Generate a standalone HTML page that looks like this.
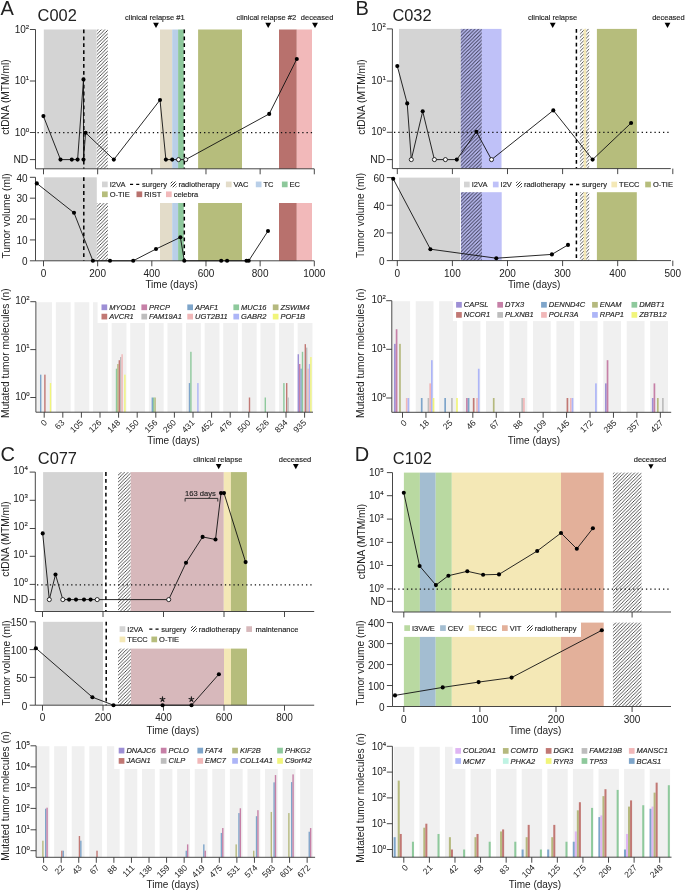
<!DOCTYPE html>
<html><head><meta charset="utf-8"><style>
html,body{margin:0;padding:0;background:#fff;}
svg{display:block;will-change:transform;}
text{font-family:"Liberation Sans", sans-serif;}
</style></head><body>
<svg width="685" height="890" viewBox="0 0 685 890">
<rect width="685" height="890" fill="#fff"/>
<defs>
<pattern id="h1" patternUnits="userSpaceOnUse" width="3.45" height="3.45">
<rect width="3.45" height="3.45" fill="#fff"/>
<path d="M-1,1 L1,-1 M0,3.45 L3.45,0 M2.45,4.45 L4.45,2.45" stroke="#2a2a2a" stroke-width="0.8"/>
</pattern>
<pattern id="hb" patternUnits="userSpaceOnUse" width="3.6" height="3.6">
<rect width="3.6" height="3.6" fill="#c0c1f8"/>
<path d="M-1,1 L1,-1 M0,3.6 L3.6,0 M2.6,4.6 L4.6,2.6" stroke="#3a3a55" stroke-width="1.05"/>
</pattern>
<pattern id="hl" patternUnits="userSpaceOnUse" width="3" height="3">
<rect width="3" height="3" fill="#fff"/>
<path d="M-1,1 L1,-1 M0,3 L3,0 M2,4 L4,2" stroke="#333" stroke-width="1"/>
</pattern>
</defs>
<text x="0.6" y="14.8" font-size="20" text-anchor="start" fill="#222" >A</text>
<text x="37.6" y="21" font-size="16.4" text-anchor="start" fill="#222" >C002</text>
<rect x="43.8" y="29.5" width="52.8" height="139.3" fill="#d4d4d4" />
<rect x="96.8" y="29.5" width="11" height="139.3" fill="url(#h1)" />
<rect x="160" y="29.5" width="12.2" height="139.3" fill="#e3dcc9" />
<rect x="172.2" y="29.5" width="5.9" height="139.3" fill="#b9cfe8" />
<rect x="178.1" y="29.5" width="5.7" height="139.3" fill="#8dc89b" />
<rect x="198.1" y="29.5" width="43.9" height="139.3" fill="#b6bd7c" />
<rect x="279" y="29.5" width="17.8" height="139.3" fill="#b8716d" />
<rect x="296.8" y="29.5" width="15.2" height="139.3" fill="#f2b9ba" />
<line x1="83.8" y1="29.5" x2="83.8" y2="168.8" stroke="#000" stroke-width="1.5" stroke-dasharray="3.8 3.1"/>
<line x1="184.3" y1="29.5" x2="184.3" y2="168.8" stroke="#000" stroke-width="1.5" stroke-dasharray="3.8 3.1"/>
<line x1="37.5" y1="132.7" x2="312.5" y2="132.7" stroke="#111" stroke-width="1.2" stroke-dasharray="1.3 2.97"/>
<line x1="35.5" y1="29.5" x2="35.5" y2="168.8" stroke="#333" stroke-width="0.9" />
<line x1="35.5" y1="168.8" x2="314.2" y2="168.8" stroke="#333" stroke-width="0.9" />
<line x1="43.5" y1="168.8" x2="43.5" y2="174.3" stroke="#333" stroke-width="0.9" />
<line x1="97.66" y1="168.8" x2="97.66" y2="174.3" stroke="#333" stroke-width="0.9" />
<line x1="151.82" y1="168.8" x2="151.82" y2="174.3" stroke="#333" stroke-width="0.9" />
<line x1="205.98" y1="168.8" x2="205.98" y2="174.3" stroke="#333" stroke-width="0.9" />
<line x1="260.14" y1="168.8" x2="260.14" y2="174.3" stroke="#333" stroke-width="0.9" />
<line x1="314.3" y1="168.8" x2="314.3" y2="174.3" stroke="#333" stroke-width="0.9" />
<line x1="29.9" y1="29.5" x2="35.5" y2="29.5" stroke="#333" stroke-width="0.9" />
<text x="25.8" y="32.7" font-size="10" text-anchor="end" fill="#222" >10</text>
<text x="25.8" y="28.8" font-size="6" text-anchor="start" fill="#222"  stroke="#222" stroke-width="0.14">2</text>
<line x1="29.9" y1="81" x2="35.5" y2="81" stroke="#333" stroke-width="0.9" />
<text x="25.8" y="84.2" font-size="10" text-anchor="end" fill="#222" >10</text>
<text x="25.8" y="80.3" font-size="6" text-anchor="start" fill="#222"  stroke="#222" stroke-width="0.14">1</text>
<line x1="29.9" y1="132.5" x2="35.5" y2="132.5" stroke="#333" stroke-width="0.9" />
<text x="25.8" y="135.7" font-size="10" text-anchor="end" fill="#222" >10</text>
<text x="25.8" y="131.8" font-size="6" text-anchor="start" fill="#222"  stroke="#222" stroke-width="0.14">0</text>
<line x1="29.9" y1="159.6" x2="35.5" y2="159.6" stroke="#333" stroke-width="0.9" />
<text x="28.3" y="163.4" font-size="10.3" text-anchor="end" fill="#222" >ND</text>
<text x="0" y="0" font-size="10.2" text-anchor="middle" fill="#222" transform="translate(9.2,97.1) rotate(-90)">ctDNA (MTM/ml)</text>
<polyline points="43.4,116.1 60.5,159.6 71.8,159.6 77.6,159.6 83.5,79.4 83.5,159.6 85.6,132.8 113.8,159.6 160,100 165.9,159.6 172.2,159.6 178.5,159.6 185.7,159.6 269.2,113.9 296.8,59" fill="none" stroke="#111" stroke-width="0.9" stroke-linejoin="miter" />
<circle cx="43.4" cy="116.1" r="2.05" fill="#000"/>
<circle cx="60.5" cy="159.6" r="2.05" fill="#000"/>
<circle cx="71.8" cy="159.6" r="2.05" fill="#000"/>
<circle cx="77.6" cy="159.6" r="2.05" fill="#000"/>
<circle cx="83.5" cy="79.4" r="2.05" fill="#000"/>
<circle cx="83.5" cy="159.6" r="2.05" fill="#000"/>
<circle cx="85.6" cy="132.8" r="2.05" fill="#000"/>
<circle cx="113.8" cy="159.6" r="2.05" fill="#000"/>
<circle cx="160" cy="100" r="2.05" fill="#000"/>
<circle cx="165.9" cy="159.6" r="2.05" fill="#000"/>
<circle cx="172.2" cy="159.6" r="2.05" fill="#000"/>
<circle cx="178.5" cy="159.6" r="2.05" fill="#fff" stroke="#000" stroke-width="0.8"/>
<circle cx="185.7" cy="159.6" r="2.05" fill="#fff" stroke="#000" stroke-width="0.8"/>
<circle cx="269.2" cy="113.9" r="2.05" fill="#000"/>
<circle cx="296.8" cy="59" r="2.05" fill="#000"/>
<text x="154.8" y="20.3" font-size="7.5" text-anchor="middle" fill="#222"  stroke="#222" stroke-width="0.14">clinical relapse #1</text>
<path d="M153.09,22.7 L158.91,22.7 L156,28 Z" fill="#000"/>
<text x="266.3" y="20.3" font-size="7.5" text-anchor="middle" fill="#222"  stroke="#222" stroke-width="0.14">clinical relapse #2</text>
<path d="M265.28,22.7 L271.12,22.7 L268.2,28 Z" fill="#000"/>
<text x="317.1" y="20.3" font-size="7.5" text-anchor="middle" fill="#222"  stroke="#222" stroke-width="0.14">deceased</text>
<path d="M312.08,22.7 L317.92,22.7 L315,28 Z" fill="#000"/>
<rect x="44" y="177.3" width="52.8" height="83.5" fill="#d4d4d4" />
<rect x="96.8" y="203" width="11.1" height="57.8" fill="url(#h1)" />
<rect x="160" y="203" width="12.2" height="57.8" fill="#e3dcc9" />
<rect x="172.2" y="203" width="5.9" height="57.8" fill="#b9cfe8" />
<rect x="178.1" y="203" width="5.7" height="57.8" fill="#8dc89b" />
<rect x="198.1" y="203" width="43.9" height="57.8" fill="#b6bd7c" />
<rect x="279" y="203" width="17.8" height="57.8" fill="#b8716d" />
<rect x="296.8" y="203" width="15.2" height="57.8" fill="#f2b9ba" />
<line x1="83.8" y1="177.3" x2="83.8" y2="260.8" stroke="#000" stroke-width="1.5" stroke-dasharray="3.8 3.1"/>
<line x1="184.3" y1="203" x2="184.3" y2="260.8" stroke="#000" stroke-width="1.5" stroke-dasharray="3.8 3.1"/>
<line x1="35.5" y1="177.3" x2="35.5" y2="260.8" stroke="#333" stroke-width="0.9" />
<line x1="35.5" y1="260.8" x2="314.2" y2="260.8" stroke="#333" stroke-width="0.9" />
<line x1="29.9" y1="260.8" x2="35.5" y2="260.8" stroke="#333" stroke-width="0.9" />
<text x="27.6" y="265.1" font-size="10" text-anchor="end" fill="#222" >0</text>
<line x1="29.9" y1="239.93" x2="35.5" y2="239.93" stroke="#333" stroke-width="0.9" />
<text x="27.6" y="244.23" font-size="10" text-anchor="end" fill="#222" >10</text>
<line x1="29.9" y1="219.05" x2="35.5" y2="219.05" stroke="#333" stroke-width="0.9" />
<text x="27.6" y="223.35" font-size="10" text-anchor="end" fill="#222" >20</text>
<line x1="29.9" y1="198.18" x2="35.5" y2="198.18" stroke="#333" stroke-width="0.9" />
<text x="27.6" y="202.48" font-size="10" text-anchor="end" fill="#222" >30</text>
<line x1="29.9" y1="177.3" x2="35.5" y2="177.3" stroke="#333" stroke-width="0.9" />
<text x="27.6" y="181.6" font-size="10" text-anchor="end" fill="#222" >40</text>
<line x1="43.5" y1="260.8" x2="43.5" y2="266.3" stroke="#333" stroke-width="0.9" />
<text x="43.5" y="276.8" font-size="10" text-anchor="middle" fill="#222" >0</text>
<line x1="97.66" y1="260.8" x2="97.66" y2="266.3" stroke="#333" stroke-width="0.9" />
<text x="97.66" y="276.8" font-size="10" text-anchor="middle" fill="#222" >200</text>
<line x1="151.82" y1="260.8" x2="151.82" y2="266.3" stroke="#333" stroke-width="0.9" />
<text x="151.82" y="276.8" font-size="10" text-anchor="middle" fill="#222" >400</text>
<line x1="205.98" y1="260.8" x2="205.98" y2="266.3" stroke="#333" stroke-width="0.9" />
<text x="205.98" y="276.8" font-size="10" text-anchor="middle" fill="#222" >600</text>
<line x1="260.14" y1="260.8" x2="260.14" y2="266.3" stroke="#333" stroke-width="0.9" />
<text x="260.14" y="276.8" font-size="10" text-anchor="middle" fill="#222" >800</text>
<line x1="314.3" y1="260.8" x2="314.3" y2="266.3" stroke="#333" stroke-width="0.9" />
<text x="314.3" y="276.8" font-size="10" text-anchor="middle" fill="#222" >1000</text>
<text x="171.6" y="287.6" font-size="10" text-anchor="middle" fill="#222" >Time (days)</text>
<text x="0" y="0" font-size="10.2" text-anchor="middle" fill="#222" transform="translate(9.6,216) rotate(-90)">Tumor volume (ml)</text>
<polyline points="36.8,183.4 74,212.8 92.9,260.8 110,260.8 133.2,260.8 156,249 180.4,237.3 184.3,260.8 221.2,260.8 227.1,260.8 246.5,260.8 248.7,260.8 268,231" fill="none" stroke="#111" stroke-width="0.9" stroke-linejoin="miter" />
<circle cx="36.8" cy="183.4" r="2.05" fill="#000"/>
<circle cx="74" cy="212.8" r="2.05" fill="#000"/>
<circle cx="92.9" cy="260.8" r="2.05" fill="#000"/>
<circle cx="110" cy="260.8" r="2.05" fill="#000"/>
<circle cx="133.2" cy="260.8" r="2.05" fill="#000"/>
<circle cx="156" cy="249" r="2.05" fill="#000"/>
<circle cx="180.4" cy="237.3" r="2.05" fill="#000"/>
<circle cx="184.3" cy="260.8" r="2.05" fill="#000"/>
<circle cx="221.2" cy="260.8" r="2.05" fill="#000"/>
<circle cx="227.1" cy="260.8" r="2.05" fill="#000"/>
<circle cx="246.5" cy="260.8" r="2.05" fill="#000"/>
<circle cx="248.7" cy="260.8" r="2.05" fill="#000"/>
<circle cx="268" cy="231" r="2.05" fill="#000"/>
<rect x="102" y="181.55" width="5.7" height="5.7" fill="#d4d4d4" />
<text x="109.7" y="186.9" font-size="7.5" text-anchor="start" fill="#222"  stroke="#222" stroke-width="0.14">I2VA</text>
<line x1="130" y1="184.4" x2="139.3" y2="184.4" stroke="#000" stroke-width="1.3" stroke-dasharray="3.1 3.1"/>
<text x="142" y="186.9" font-size="7.5" text-anchor="start" fill="#222"  stroke="#222" stroke-width="0.14">surgery</text>
<rect x="170.7" y="181.55" width="5.7" height="5.7" fill="url(#hl)" />
<text x="178.4" y="186.9" font-size="7.5" text-anchor="start" fill="#222"  stroke="#222" stroke-width="0.14">radiotherapy</text>
<rect x="225.9" y="181.55" width="5.7" height="5.7" fill="#e3dcc9" />
<text x="233.6" y="186.9" font-size="7.5" text-anchor="start" fill="#222"  stroke="#222" stroke-width="0.14">VAC</text>
<rect x="255.8" y="181.55" width="5.7" height="5.7" fill="#b9cfe8" />
<text x="263.5" y="186.9" font-size="7.5" text-anchor="start" fill="#222"  stroke="#222" stroke-width="0.14">TC</text>
<rect x="281.9" y="181.55" width="5.7" height="5.7" fill="#8dc89b" />
<text x="289.6" y="186.9" font-size="7.5" text-anchor="start" fill="#222"  stroke="#222" stroke-width="0.14">EC</text>
<rect x="102" y="191.45" width="5.7" height="5.7" fill="#b6bd7c" />
<text x="109.7" y="196.8" font-size="7.5" text-anchor="start" fill="#222"  stroke="#222" stroke-width="0.14">O-TIE</text>
<rect x="136.5" y="191.45" width="5.7" height="5.7" fill="#b8716d" />
<text x="144.2" y="196.8" font-size="7.5" text-anchor="start" fill="#222"  stroke="#222" stroke-width="0.14">RIST</text>
<rect x="166" y="191.45" width="5.7" height="5.7" fill="#f2b9ba" />
<text x="173.7" y="196.8" font-size="7.5" text-anchor="start" fill="#222"  stroke="#222" stroke-width="0.14">celebra</text>
<rect x="37.25" y="302.2" width="14.8" height="110" fill="#f0f0f0" />
<rect x="55.85" y="302.2" width="14.8" height="110" fill="#f0f0f0" />
<rect x="74.45" y="302.2" width="14.8" height="110" fill="#f0f0f0" />
<rect x="93.05" y="302.2" width="14.8" height="110" fill="#f0f0f0" />
<rect x="111.65" y="302.2" width="14.8" height="110" fill="#f0f0f0" />
<rect x="130.25" y="302.2" width="14.8" height="110" fill="#f0f0f0" />
<rect x="148.85" y="302.2" width="14.8" height="110" fill="#f0f0f0" />
<rect x="167.45" y="302.2" width="14.8" height="110" fill="#f0f0f0" />
<rect x="186.05" y="302.2" width="14.8" height="110" fill="#f0f0f0" />
<rect x="204.65" y="302.2" width="14.8" height="110" fill="#f0f0f0" />
<rect x="223.25" y="302.2" width="14.8" height="110" fill="#f0f0f0" />
<rect x="241.85" y="302.2" width="14.8" height="110" fill="#f0f0f0" />
<rect x="260.45" y="302.2" width="14.8" height="110" fill="#f0f0f0" />
<rect x="279.05" y="302.2" width="14.8" height="110" fill="#f0f0f0" />
<rect x="297.65" y="302.2" width="14.8" height="110" fill="#f0f0f0" />
<rect x="40" y="374.65" width="1.4" height="37.55" fill="#7ea5ca" />
<rect x="44.2" y="374.65" width="1.4" height="37.55" fill="#c17874" />
<rect x="49.8" y="383.08" width="1.4" height="29.12" fill="#f1f57a" />
<rect x="115.8" y="368.66" width="1.4" height="43.54" fill="#8ec99c" />
<rect x="117.2" y="364.02" width="1.4" height="48.18" fill="#b5b97e" />
<rect x="118.6" y="360.23" width="1.4" height="51.97" fill="#c17874" />
<rect x="120" y="357.02" width="1.4" height="55.18" fill="#bdbdbd" />
<rect x="121.4" y="354.24" width="1.4" height="57.96" fill="#f1b7b8" />
<rect x="124.2" y="374.65" width="1.4" height="37.55" fill="#f1f57a" />
<rect x="151.6" y="397.5" width="1.4" height="14.7" fill="#7ea5ca" />
<rect x="153" y="397.5" width="1.4" height="14.7" fill="#8ec99c" />
<rect x="154.4" y="397.5" width="1.4" height="14.7" fill="#b5b97e" />
<rect x="188.8" y="383.08" width="1.4" height="29.12" fill="#7ea5ca" />
<rect x="190.2" y="351.79" width="1.4" height="60.41" fill="#8ec99c" />
<rect x="197.2" y="383.08" width="1.4" height="29.12" fill="#adb5f7" />
<rect x="248.8" y="397.5" width="1.4" height="14.7" fill="#c17874" />
<rect x="264.6" y="397.5" width="1.4" height="14.7" fill="#8ec99c" />
<rect x="283.2" y="383.08" width="1.4" height="29.12" fill="#8ec99c" />
<rect x="286" y="383.08" width="1.4" height="29.12" fill="#c17874" />
<rect x="287.4" y="397.5" width="1.4" height="14.7" fill="#bdbdbd" />
<rect x="297.6" y="354.24" width="1.4" height="57.96" fill="#9d8fd5" />
<rect x="299" y="364.02" width="1.4" height="48.18" fill="#c680a7" />
<rect x="300.4" y="368.66" width="1.4" height="43.54" fill="#7ea5ca" />
<rect x="301.8" y="351.79" width="1.4" height="60.41" fill="#8ec99c" />
<rect x="304.6" y="344.14" width="1.4" height="68.06" fill="#c17874" />
<rect x="306" y="347.62" width="1.4" height="64.58" fill="#bdbdbd" />
<rect x="307.4" y="368.66" width="1.4" height="43.54" fill="#f1b7b8" />
<rect x="308.8" y="364.02" width="1.4" height="48.18" fill="#adb5f7" />
<rect x="310.2" y="357.02" width="1.4" height="55.18" fill="#f1f57a" />
<rect x="97.6" y="300.5" width="215.9" height="22.5" fill="#fff" />
<line x1="35.9" y1="301.7" x2="35.9" y2="412.2" stroke="#333" stroke-width="0.9" />
<line x1="35.9" y1="412.2" x2="313" y2="412.2" stroke="#333" stroke-width="0.9" />
<line x1="30.3" y1="301.7" x2="35.9" y2="301.7" stroke="#333" stroke-width="0.9" />
<text x="26.3" y="304.1" font-size="10" text-anchor="end" fill="#222" >10</text>
<text x="26.3" y="300.2" font-size="6" text-anchor="start" fill="#222"  stroke="#222" stroke-width="0.14">2</text>
<line x1="30.3" y1="349.6" x2="35.9" y2="349.6" stroke="#333" stroke-width="0.9" />
<text x="26.3" y="352" font-size="10" text-anchor="end" fill="#222" >10</text>
<text x="26.3" y="348.1" font-size="6" text-anchor="start" fill="#222"  stroke="#222" stroke-width="0.14">1</text>
<line x1="30.3" y1="397.5" x2="35.9" y2="397.5" stroke="#333" stroke-width="0.9" />
<text x="26.3" y="399.9" font-size="10" text-anchor="end" fill="#222" >10</text>
<text x="26.3" y="396" font-size="6" text-anchor="start" fill="#222"  stroke="#222" stroke-width="0.14">0</text>
<line x1="44.2" y1="412.2" x2="44.2" y2="417.7" stroke="#333" stroke-width="0.9" />
<line x1="62.8" y1="412.2" x2="62.8" y2="417.7" stroke="#333" stroke-width="0.9" />
<line x1="81.4" y1="412.2" x2="81.4" y2="417.7" stroke="#333" stroke-width="0.9" />
<line x1="100" y1="412.2" x2="100" y2="417.7" stroke="#333" stroke-width="0.9" />
<line x1="118.6" y1="412.2" x2="118.6" y2="417.7" stroke="#333" stroke-width="0.9" />
<line x1="137.2" y1="412.2" x2="137.2" y2="417.7" stroke="#333" stroke-width="0.9" />
<line x1="155.8" y1="412.2" x2="155.8" y2="417.7" stroke="#333" stroke-width="0.9" />
<line x1="174.4" y1="412.2" x2="174.4" y2="417.7" stroke="#333" stroke-width="0.9" />
<line x1="193" y1="412.2" x2="193" y2="417.7" stroke="#333" stroke-width="0.9" />
<line x1="211.6" y1="412.2" x2="211.6" y2="417.7" stroke="#333" stroke-width="0.9" />
<line x1="230.2" y1="412.2" x2="230.2" y2="417.7" stroke="#333" stroke-width="0.9" />
<line x1="248.8" y1="412.2" x2="248.8" y2="417.7" stroke="#333" stroke-width="0.9" />
<line x1="267.4" y1="412.2" x2="267.4" y2="417.7" stroke="#333" stroke-width="0.9" />
<line x1="286" y1="412.2" x2="286" y2="417.7" stroke="#333" stroke-width="0.9" />
<line x1="304.6" y1="412.2" x2="304.6" y2="417.7" stroke="#333" stroke-width="0.9" />
<text x="0" y="0" font-size="8.5" text-anchor="end" fill="#222" transform="translate(47.7,423.2) rotate(-45)">0</text>
<text x="0" y="0" font-size="8.5" text-anchor="end" fill="#222" transform="translate(65,423.2) rotate(-45)">63</text>
<text x="0" y="0" font-size="8.5" text-anchor="end" fill="#222" transform="translate(83.6,423.2) rotate(-45)">105</text>
<text x="0" y="0" font-size="8.5" text-anchor="end" fill="#222" transform="translate(102.2,423.2) rotate(-45)">126</text>
<text x="0" y="0" font-size="8.5" text-anchor="end" fill="#222" transform="translate(120.8,423.2) rotate(-45)">148</text>
<text x="0" y="0" font-size="8.5" text-anchor="end" fill="#222" transform="translate(139.4,423.2) rotate(-45)">150</text>
<text x="0" y="0" font-size="8.5" text-anchor="end" fill="#222" transform="translate(158,423.2) rotate(-45)">156</text>
<text x="0" y="0" font-size="8.5" text-anchor="end" fill="#222" transform="translate(176.6,423.2) rotate(-45)">260</text>
<text x="0" y="0" font-size="8.5" text-anchor="end" fill="#222" transform="translate(195.2,423.2) rotate(-45)">431</text>
<text x="0" y="0" font-size="8.5" text-anchor="end" fill="#222" transform="translate(213.8,423.2) rotate(-45)">452</text>
<text x="0" y="0" font-size="8.5" text-anchor="end" fill="#222" transform="translate(232.4,423.2) rotate(-45)">476</text>
<text x="0" y="0" font-size="8.5" text-anchor="end" fill="#222" transform="translate(251,423.2) rotate(-45)">500</text>
<text x="0" y="0" font-size="8.5" text-anchor="end" fill="#222" transform="translate(269.6,423.2) rotate(-45)">526</text>
<text x="0" y="0" font-size="8.5" text-anchor="end" fill="#222" transform="translate(288.2,423.2) rotate(-45)">834</text>
<text x="0" y="0" font-size="8.5" text-anchor="end" fill="#222" transform="translate(306.8,423.2) rotate(-45)">935</text>
<text x="173.5" y="443.5" font-size="10" text-anchor="middle" fill="#222" >Time (days)</text>
<text x="0" y="0" font-size="10.2" text-anchor="middle" fill="#222" transform="translate(9.2,353.2) rotate(-90)">Mutated tumor molecules (n)</text>
<rect x="101.5" y="304.45" width="5.7" height="5.7" fill="#9d8fd5" />
<text x="109.2" y="309.8" font-size="7.5" text-anchor="start" fill="#222" font-style="italic" stroke="#222" stroke-width="0.14">MYOD1</text>
<rect x="101.5" y="313.75" width="5.7" height="5.7" fill="#c17874" />
<text x="109.2" y="319.1" font-size="7.5" text-anchor="start" fill="#222" font-style="italic" stroke="#222" stroke-width="0.14">AVCR1</text>
<rect x="141.4" y="304.45" width="5.7" height="5.7" fill="#c680a7" />
<text x="149.1" y="309.8" font-size="7.5" text-anchor="start" fill="#222" font-style="italic" stroke="#222" stroke-width="0.14">PRCP</text>
<rect x="141.4" y="313.75" width="5.7" height="5.7" fill="#bdbdbd" />
<text x="149.1" y="319.1" font-size="7.5" text-anchor="start" fill="#222" font-style="italic" stroke="#222" stroke-width="0.14">FAM19A1</text>
<rect x="187.3" y="304.45" width="5.7" height="5.7" fill="#7ea5ca" />
<text x="195" y="309.8" font-size="7.5" text-anchor="start" fill="#222" font-style="italic" stroke="#222" stroke-width="0.14">APAF1</text>
<rect x="187.3" y="313.75" width="5.7" height="5.7" fill="#f1b7b8" />
<text x="195" y="319.1" font-size="7.5" text-anchor="start" fill="#222" font-style="italic" stroke="#222" stroke-width="0.14">UGT2B11</text>
<rect x="233.4" y="304.45" width="5.7" height="5.7" fill="#8ec99c" />
<text x="241.1" y="309.8" font-size="7.5" text-anchor="start" fill="#222" font-style="italic" stroke="#222" stroke-width="0.14">MUC16</text>
<rect x="233.4" y="313.75" width="5.7" height="5.7" fill="#adb5f7" />
<text x="241.1" y="319.1" font-size="7.5" text-anchor="start" fill="#222" font-style="italic" stroke="#222" stroke-width="0.14">GABR2</text>
<rect x="272.8" y="304.45" width="5.7" height="5.7" fill="#b5b97e" />
<text x="280.5" y="309.8" font-size="7.5" text-anchor="start" fill="#222" font-style="italic" stroke="#222" stroke-width="0.14">ZSWIM4</text>
<rect x="272.8" y="313.75" width="5.7" height="5.7" fill="#f1f57a" />
<text x="280.5" y="319.1" font-size="7.5" text-anchor="start" fill="#222" font-style="italic" stroke="#222" stroke-width="0.14">POF1B</text>
<text x="355.6" y="15" font-size="20" text-anchor="start" fill="#222" >B</text>
<text x="392.4" y="21.3" font-size="16.4" text-anchor="start" fill="#222" >C032</text>
<rect x="399" y="28.9" width="61.7" height="139.7" fill="#d4d4d4" />
<rect x="460.7" y="28.9" width="21.2" height="139.7" fill="url(#hb)" />
<rect x="481.9" y="28.9" width="19.6" height="139.7" fill="#bfc1f8" />
<rect x="579.9" y="28.9" width="9.3" height="139.7" fill="url(#h1)" />
<rect x="583.6" y="28.9" width="2.6" height="139.7" fill="#f4e8b6" />
<rect x="596.9" y="28.9" width="40" height="139.7" fill="#b6bd7c" />
<line x1="576.4" y1="28.9" x2="576.4" y2="168.6" stroke="#000" stroke-width="1.5" stroke-dasharray="3.8 3.1"/>
<line x1="394" y1="132.3" x2="670.5" y2="132.3" stroke="#111" stroke-width="1.2" stroke-dasharray="1.3 2.97"/>
<line x1="392.4" y1="28.9" x2="392.4" y2="168.6" stroke="#333" stroke-width="0.9" />
<line x1="392.4" y1="168.6" x2="670.8" y2="168.6" stroke="#333" stroke-width="0.9" />
<line x1="397.3" y1="168.6" x2="397.3" y2="174.1" stroke="#333" stroke-width="0.9" />
<line x1="452.4" y1="168.6" x2="452.4" y2="174.1" stroke="#333" stroke-width="0.9" />
<line x1="507.5" y1="168.6" x2="507.5" y2="174.1" stroke="#333" stroke-width="0.9" />
<line x1="562.6" y1="168.6" x2="562.6" y2="174.1" stroke="#333" stroke-width="0.9" />
<line x1="617.7" y1="168.6" x2="617.7" y2="174.1" stroke="#333" stroke-width="0.9" />
<line x1="672.8" y1="168.6" x2="672.8" y2="174.1" stroke="#333" stroke-width="0.9" />
<line x1="386.8" y1="28.9" x2="392.4" y2="28.9" stroke="#333" stroke-width="0.9" />
<text x="382.4" y="31.3" font-size="10" text-anchor="end" fill="#222" >10</text>
<text x="382.4" y="27.4" font-size="6" text-anchor="start" fill="#222"  stroke="#222" stroke-width="0.14">2</text>
<line x1="386.8" y1="81.1" x2="392.4" y2="81.1" stroke="#333" stroke-width="0.9" />
<text x="382.4" y="83.5" font-size="10" text-anchor="end" fill="#222" >10</text>
<text x="382.4" y="79.6" font-size="6" text-anchor="start" fill="#222"  stroke="#222" stroke-width="0.14">1</text>
<line x1="386.8" y1="132.3" x2="392.4" y2="132.3" stroke="#333" stroke-width="0.9" />
<text x="382.4" y="134.7" font-size="10" text-anchor="end" fill="#222" >10</text>
<text x="382.4" y="130.8" font-size="6" text-anchor="start" fill="#222"  stroke="#222" stroke-width="0.14">0</text>
<line x1="386.8" y1="159.6" x2="392.4" y2="159.6" stroke="#333" stroke-width="0.9" />
<text x="385.2" y="163.4" font-size="10.3" text-anchor="end" fill="#222" >ND</text>
<text x="0" y="0" font-size="10.2" text-anchor="middle" fill="#222" transform="translate(365.2,97) rotate(-90)">ctDNA (MTM/ml)</text>
<polyline points="397.3,66.1 407.2,103.4 411.3,159.6 422.7,111.3 434.4,159.6 445.4,159.6 456.8,159.6 476.4,131.8 491.5,159.6 553.3,110.4 592.6,159.6 631.1,123" fill="none" stroke="#111" stroke-width="0.9" stroke-linejoin="miter" />
<circle cx="397.3" cy="66.1" r="2.05" fill="#000"/>
<circle cx="407.2" cy="103.4" r="2.05" fill="#000"/>
<circle cx="411.3" cy="159.6" r="2.05" fill="#fff" stroke="#000" stroke-width="0.8"/>
<circle cx="422.7" cy="111.3" r="2.05" fill="#000"/>
<circle cx="434.4" cy="159.6" r="2.05" fill="#fff" stroke="#000" stroke-width="0.8"/>
<circle cx="445.4" cy="159.6" r="2.05" fill="#fff" stroke="#000" stroke-width="0.8"/>
<circle cx="456.8" cy="159.6" r="2.05" fill="#000"/>
<circle cx="476.4" cy="131.8" r="2.05" fill="#000"/>
<circle cx="491.5" cy="159.6" r="2.05" fill="#fff" stroke="#000" stroke-width="0.8"/>
<circle cx="553.3" cy="110.4" r="2.05" fill="#000"/>
<circle cx="592.6" cy="159.6" r="2.05" fill="#000"/>
<circle cx="631.1" cy="123" r="2.05" fill="#000"/>
<text x="552.5" y="20.3" font-size="7.5" text-anchor="middle" fill="#222"  stroke="#222" stroke-width="0.14">clinical relapse</text>
<path d="M549.79,22.7 L555.62,22.7 L552.7,28 Z" fill="#000"/>
<text x="668.4" y="20.3" font-size="7.5" text-anchor="middle" fill="#222"  stroke="#222" stroke-width="0.14">deceased</text>
<path d="M664.59,22.7 L670.41,22.7 L667.5,28 Z" fill="#000"/>
<rect x="399" y="177.6" width="61" height="83" fill="#d4d4d4" />
<rect x="460.9" y="192.2" width="21.1" height="68.4" fill="url(#hb)" />
<rect x="482" y="192.2" width="19.7" height="68.4" fill="#bfc1f8" />
<rect x="579.9" y="192.2" width="9.3" height="68.4" fill="url(#h1)" />
<rect x="583.6" y="192.2" width="2.6" height="68.4" fill="#f4e8b6" />
<rect x="596.9" y="192.2" width="39.9" height="68.4" fill="#b6bd7c" />
<line x1="576.4" y1="192.2" x2="576.4" y2="260.6" stroke="#000" stroke-width="1.5" stroke-dasharray="3.8 3.1"/>
<line x1="392.4" y1="177.6" x2="392.4" y2="260.6" stroke="#333" stroke-width="0.9" />
<line x1="392.4" y1="260.6" x2="671" y2="260.6" stroke="#333" stroke-width="0.9" />
<line x1="386.8" y1="260.6" x2="392.4" y2="260.6" stroke="#333" stroke-width="0.9" />
<text x="384.5" y="264.9" font-size="10" text-anchor="end" fill="#222" >0</text>
<line x1="386.8" y1="232.93" x2="392.4" y2="232.93" stroke="#333" stroke-width="0.9" />
<text x="384.5" y="237.23" font-size="10" text-anchor="end" fill="#222" >20</text>
<line x1="386.8" y1="205.27" x2="392.4" y2="205.27" stroke="#333" stroke-width="0.9" />
<text x="384.5" y="209.57" font-size="10" text-anchor="end" fill="#222" >40</text>
<line x1="386.8" y1="177.6" x2="392.4" y2="177.6" stroke="#333" stroke-width="0.9" />
<text x="384.5" y="181.9" font-size="10" text-anchor="end" fill="#222" >60</text>
<line x1="397.3" y1="260.6" x2="397.3" y2="266.1" stroke="#333" stroke-width="0.9" />
<text x="397.3" y="276.6" font-size="10" text-anchor="middle" fill="#222" >0</text>
<line x1="452.4" y1="260.6" x2="452.4" y2="266.1" stroke="#333" stroke-width="0.9" />
<text x="452.4" y="276.6" font-size="10" text-anchor="middle" fill="#222" >100</text>
<line x1="507.5" y1="260.6" x2="507.5" y2="266.1" stroke="#333" stroke-width="0.9" />
<text x="507.5" y="276.6" font-size="10" text-anchor="middle" fill="#222" >200</text>
<line x1="562.6" y1="260.6" x2="562.6" y2="266.1" stroke="#333" stroke-width="0.9" />
<text x="562.6" y="276.6" font-size="10" text-anchor="middle" fill="#222" >300</text>
<line x1="617.7" y1="260.6" x2="617.7" y2="266.1" stroke="#333" stroke-width="0.9" />
<text x="617.7" y="276.6" font-size="10" text-anchor="middle" fill="#222" >400</text>
<line x1="672.8" y1="260.6" x2="672.8" y2="266.1" stroke="#333" stroke-width="0.9" />
<text x="672.8" y="276.6" font-size="10" text-anchor="middle" fill="#222" >500</text>
<text x="534.1" y="287.8" font-size="10" text-anchor="middle" fill="#222" >Time (days)</text>
<text x="0" y="0" font-size="10.2" text-anchor="middle" fill="#222" transform="translate(363.5,215.5) rotate(-90)">Tumor volume (ml)</text>
<polyline points="393.2,178.8 430.4,249.2 496.3,258.2 551.9,254.4 568,244.9" fill="none" stroke="#111" stroke-width="0.9" stroke-linejoin="miter" />
<circle cx="393.2" cy="178.8" r="2.05" fill="#000"/>
<circle cx="430.4" cy="249.2" r="2.05" fill="#000"/>
<circle cx="496.3" cy="258.2" r="2.05" fill="#000"/>
<circle cx="551.9" cy="254.4" r="2.05" fill="#000"/>
<circle cx="568" cy="244.9" r="2.05" fill="#000"/>
<rect x="464" y="181.65" width="5.7" height="5.7" fill="#d4d4d4" />
<text x="471.7" y="187" font-size="7.5" text-anchor="start" fill="#222"  stroke="#222" stroke-width="0.14">I2VA</text>
<rect x="492.9" y="181.65" width="5.7" height="5.7" fill="#bfc1f8" />
<text x="500.6" y="187" font-size="7.5" text-anchor="start" fill="#222"  stroke="#222" stroke-width="0.14">I2V</text>
<rect x="516.2" y="181.65" width="5.7" height="5.7" fill="url(#hl)" />
<text x="523.9" y="187" font-size="7.5" text-anchor="start" fill="#222"  stroke="#222" stroke-width="0.14">radiotherapy</text>
<line x1="569.9" y1="184.5" x2="579.2" y2="184.5" stroke="#000" stroke-width="1.3" stroke-dasharray="3.1 3.1"/>
<text x="581.9" y="187" font-size="7.5" text-anchor="start" fill="#222"  stroke="#222" stroke-width="0.14">surgery</text>
<rect x="611.4" y="181.65" width="5.7" height="5.7" fill="#f4e8b6" />
<text x="619.1" y="187" font-size="7.5" text-anchor="start" fill="#222"  stroke="#222" stroke-width="0.14">TECC</text>
<rect x="645.2" y="181.65" width="5.7" height="5.7" fill="#b6bd7c" />
<text x="652.9" y="187" font-size="7.5" text-anchor="start" fill="#222"  stroke="#222" stroke-width="0.14">O-TIE</text>
<rect x="392.3" y="301.2" width="17.8" height="111.1" fill="#f0f0f0" />
<rect x="415.74" y="301.2" width="17.8" height="111.1" fill="#f0f0f0" />
<rect x="439.18" y="301.2" width="17.8" height="111.1" fill="#f0f0f0" />
<rect x="462.62" y="301.2" width="17.8" height="111.1" fill="#f0f0f0" />
<rect x="486.06" y="301.2" width="17.8" height="111.1" fill="#f0f0f0" />
<rect x="509.5" y="301.2" width="17.8" height="111.1" fill="#f0f0f0" />
<rect x="532.94" y="301.2" width="17.8" height="111.1" fill="#f0f0f0" />
<rect x="556.38" y="301.2" width="17.8" height="111.1" fill="#f0f0f0" />
<rect x="579.82" y="301.2" width="17.8" height="111.1" fill="#f0f0f0" />
<rect x="603.26" y="301.2" width="17.8" height="111.1" fill="#f0f0f0" />
<rect x="626.7" y="301.2" width="17.8" height="111.1" fill="#f0f0f0" />
<rect x="650.14" y="301.2" width="17.8" height="111.1" fill="#f0f0f0" />
<rect x="394.05" y="343.86" width="1.69" height="68.44" fill="#9d8fd5" />
<rect x="395.74" y="329.23" width="1.69" height="83.07" fill="#c680a7" />
<rect x="399.12" y="343.86" width="1.69" height="68.44" fill="#b5b97e" />
<rect x="405.88" y="398" width="1.69" height="14.3" fill="#f1b7b8" />
<rect x="407.57" y="398" width="1.69" height="14.3" fill="#adb5f7" />
<rect x="420.87" y="398" width="1.69" height="14.3" fill="#7ea5ca" />
<rect x="427.63" y="398" width="1.69" height="14.3" fill="#bdbdbd" />
<rect x="429.32" y="383.37" width="1.69" height="28.93" fill="#f1b7b8" />
<rect x="431.01" y="360.18" width="1.69" height="52.12" fill="#adb5f7" />
<rect x="432.7" y="398" width="1.69" height="14.3" fill="#f1f57a" />
<rect x="444.31" y="398" width="1.69" height="14.3" fill="#7ea5ca" />
<rect x="451.07" y="398" width="1.69" height="14.3" fill="#bdbdbd" />
<rect x="456.14" y="398" width="1.69" height="14.3" fill="#f1f57a" />
<rect x="466.06" y="398" width="1.69" height="14.3" fill="#c680a7" />
<rect x="467.75" y="398" width="1.69" height="14.3" fill="#7ea5ca" />
<rect x="472.82" y="398" width="1.69" height="14.3" fill="#c17874" />
<rect x="476.2" y="398" width="1.69" height="14.3" fill="#f1b7b8" />
<rect x="477.89" y="368.74" width="1.69" height="43.56" fill="#adb5f7" />
<rect x="492.88" y="398" width="1.69" height="14.3" fill="#b5b97e" />
<rect x="521.39" y="398" width="1.69" height="14.3" fill="#bdbdbd" />
<rect x="523.08" y="398" width="1.69" height="14.3" fill="#f1b7b8" />
<rect x="566.58" y="398" width="1.69" height="14.3" fill="#c17874" />
<rect x="569.96" y="398" width="1.69" height="14.3" fill="#f1b7b8" />
<rect x="571.65" y="398" width="1.69" height="14.3" fill="#adb5f7" />
<rect x="595.09" y="383.37" width="1.69" height="28.93" fill="#adb5f7" />
<rect x="605.01" y="383.37" width="1.69" height="28.93" fill="#9d8fd5" />
<rect x="606.7" y="360.18" width="1.69" height="52.12" fill="#c680a7" />
<rect x="651.89" y="398" width="1.69" height="14.3" fill="#9d8fd5" />
<rect x="653.58" y="383.37" width="1.69" height="28.93" fill="#c680a7" />
<rect x="656.96" y="398" width="1.69" height="14.3" fill="#b5b97e" />
<rect x="662.03" y="398" width="1.69" height="14.3" fill="#bdbdbd" />
<rect x="453" y="299.5" width="218" height="21.6" fill="#fff" />
<line x1="391.8" y1="300.7" x2="391.8" y2="412.3" stroke="#333" stroke-width="0.9" />
<line x1="391.8" y1="412.3" x2="671.2" y2="412.3" stroke="#333" stroke-width="0.9" />
<line x1="386.2" y1="300.7" x2="391.8" y2="300.7" stroke="#333" stroke-width="0.9" />
<text x="382.6" y="303.3" font-size="10" text-anchor="end" fill="#222" >10</text>
<text x="382.6" y="299.4" font-size="6" text-anchor="start" fill="#222"  stroke="#222" stroke-width="0.14">2</text>
<line x1="386.2" y1="349.3" x2="391.8" y2="349.3" stroke="#333" stroke-width="0.9" />
<text x="382.6" y="351.9" font-size="10" text-anchor="end" fill="#222" >10</text>
<text x="382.6" y="348" font-size="6" text-anchor="start" fill="#222"  stroke="#222" stroke-width="0.14">1</text>
<line x1="386.2" y1="398" x2="391.8" y2="398" stroke="#333" stroke-width="0.9" />
<text x="382.6" y="400.6" font-size="10" text-anchor="end" fill="#222" >10</text>
<text x="382.6" y="396.7" font-size="6" text-anchor="start" fill="#222"  stroke="#222" stroke-width="0.14">0</text>
<line x1="402.5" y1="412.3" x2="402.5" y2="417.8" stroke="#333" stroke-width="0.9" />
<line x1="425.94" y1="412.3" x2="425.94" y2="417.8" stroke="#333" stroke-width="0.9" />
<line x1="449.38" y1="412.3" x2="449.38" y2="417.8" stroke="#333" stroke-width="0.9" />
<line x1="472.82" y1="412.3" x2="472.82" y2="417.8" stroke="#333" stroke-width="0.9" />
<line x1="496.26" y1="412.3" x2="496.26" y2="417.8" stroke="#333" stroke-width="0.9" />
<line x1="519.7" y1="412.3" x2="519.7" y2="417.8" stroke="#333" stroke-width="0.9" />
<line x1="543.14" y1="412.3" x2="543.14" y2="417.8" stroke="#333" stroke-width="0.9" />
<line x1="566.58" y1="412.3" x2="566.58" y2="417.8" stroke="#333" stroke-width="0.9" />
<line x1="590.02" y1="412.3" x2="590.02" y2="417.8" stroke="#333" stroke-width="0.9" />
<line x1="613.46" y1="412.3" x2="613.46" y2="417.8" stroke="#333" stroke-width="0.9" />
<line x1="636.9" y1="412.3" x2="636.9" y2="417.8" stroke="#333" stroke-width="0.9" />
<line x1="660.34" y1="412.3" x2="660.34" y2="417.8" stroke="#333" stroke-width="0.9" />
<text x="0" y="0" font-size="8.5" text-anchor="end" fill="#222" transform="translate(407.4,423.3) rotate(-45)">0</text>
<text x="0" y="0" font-size="8.5" text-anchor="end" fill="#222" transform="translate(429.54,423.3) rotate(-45)">18</text>
<text x="0" y="0" font-size="8.5" text-anchor="end" fill="#222" transform="translate(452.98,423.3) rotate(-45)">25</text>
<text x="0" y="0" font-size="8.5" text-anchor="end" fill="#222" transform="translate(476.42,423.3) rotate(-45)">46</text>
<text x="0" y="0" font-size="8.5" text-anchor="end" fill="#222" transform="translate(499.86,423.3) rotate(-45)">67</text>
<text x="0" y="0" font-size="8.5" text-anchor="end" fill="#222" transform="translate(523.3,423.3) rotate(-45)">88</text>
<text x="0" y="0" font-size="8.5" text-anchor="end" fill="#222" transform="translate(546.74,423.3) rotate(-45)">109</text>
<text x="0" y="0" font-size="8.5" text-anchor="end" fill="#222" transform="translate(570.18,423.3) rotate(-45)">145</text>
<text x="0" y="0" font-size="8.5" text-anchor="end" fill="#222" transform="translate(593.62,423.3) rotate(-45)">172</text>
<text x="0" y="0" font-size="8.5" text-anchor="end" fill="#222" transform="translate(617.06,423.3) rotate(-45)">285</text>
<text x="0" y="0" font-size="8.5" text-anchor="end" fill="#222" transform="translate(640.5,423.3) rotate(-45)">357</text>
<text x="0" y="0" font-size="8.5" text-anchor="end" fill="#222" transform="translate(663.94,423.3) rotate(-45)">427</text>
<text x="534" y="444.2" font-size="10" text-anchor="middle" fill="#222" >Time (days)</text>
<text x="0" y="0" font-size="10.2" text-anchor="middle" fill="#222" transform="translate(363.8,353.2) rotate(-90)">Mutated tumor molecules (n)</text>
<rect x="456.1" y="301.95" width="5.7" height="5.7" fill="#9d8fd5" />
<text x="463.8" y="307.3" font-size="7.5" text-anchor="start" fill="#222" font-style="italic" stroke="#222" stroke-width="0.14">CAPSL</text>
<rect x="456.1" y="312.05" width="5.7" height="5.7" fill="#c17874" />
<text x="463.8" y="317.4" font-size="7.5" text-anchor="start" fill="#222" font-style="italic" stroke="#222" stroke-width="0.14">NCOR1</text>
<rect x="497.3" y="301.95" width="5.7" height="5.7" fill="#c680a7" />
<text x="505" y="307.3" font-size="7.5" text-anchor="start" fill="#222" font-style="italic" stroke="#222" stroke-width="0.14">DTX3</text>
<rect x="497.3" y="312.05" width="5.7" height="5.7" fill="#bdbdbd" />
<text x="505" y="317.4" font-size="7.5" text-anchor="start" fill="#222" font-style="italic" stroke="#222" stroke-width="0.14">PLXNB1</text>
<rect x="541.1" y="301.95" width="5.7" height="5.7" fill="#7ea5ca" />
<text x="548.8" y="307.3" font-size="7.5" text-anchor="start" fill="#222" font-style="italic" stroke="#222" stroke-width="0.14">DENND4C</text>
<rect x="541.1" y="312.05" width="5.7" height="5.7" fill="#f1b7b8" />
<text x="548.8" y="317.4" font-size="7.5" text-anchor="start" fill="#222" font-style="italic" stroke="#222" stroke-width="0.14">POLR3A</text>
<rect x="592.1" y="301.95" width="5.7" height="5.7" fill="#b5b97e" />
<text x="599.8" y="307.3" font-size="7.5" text-anchor="start" fill="#222" font-style="italic" stroke="#222" stroke-width="0.14">ENAM</text>
<rect x="592.1" y="312.05" width="5.7" height="5.7" fill="#adb5f7" />
<text x="599.8" y="317.4" font-size="7.5" text-anchor="start" fill="#222" font-style="italic" stroke="#222" stroke-width="0.14">RPAP1</text>
<rect x="631.5" y="301.95" width="5.7" height="5.7" fill="#8ec99c" />
<text x="639.2" y="307.3" font-size="7.5" text-anchor="start" fill="#222" font-style="italic" stroke="#222" stroke-width="0.14">DMBT1</text>
<rect x="631.5" y="312.05" width="5.7" height="5.7" fill="#f1f57a" />
<text x="639.2" y="317.4" font-size="7.5" text-anchor="start" fill="#222" font-style="italic" stroke="#222" stroke-width="0.14">ZBTB12</text>
<text x="0.6" y="460.6" font-size="20" text-anchor="start" fill="#222" >C</text>
<text x="37.8" y="463.9" font-size="16.4" text-anchor="start" fill="#222" >C077</text>
<rect x="43.1" y="472.1" width="59.9" height="139.4" fill="#d4d4d4" />
<rect x="118" y="472.1" width="12.7" height="139.4" fill="url(#h1)" />
<rect x="130.7" y="472.1" width="93.1" height="139.4" fill="#d7b8bb" />
<rect x="223.8" y="472.1" width="7.1" height="139.4" fill="#f4e8b6" />
<rect x="230.9" y="472.1" width="16" height="139.4" fill="#b6bd7c" />
<line x1="105.9" y1="472.1" x2="105.9" y2="611.5" stroke="#000" stroke-width="1.5" stroke-dasharray="3.8 3.1"/>
<line x1="37" y1="584.8" x2="314" y2="584.8" stroke="#111" stroke-width="1.2" stroke-dasharray="1.3 2.97"/>
<line x1="35.3" y1="472.1" x2="35.3" y2="611.5" stroke="#333" stroke-width="0.9" />
<line x1="35.3" y1="611.5" x2="314.2" y2="611.5" stroke="#333" stroke-width="0.9" />
<line x1="42.5" y1="611.5" x2="42.5" y2="617" stroke="#333" stroke-width="0.9" />
<line x1="103" y1="611.5" x2="103" y2="617" stroke="#333" stroke-width="0.9" />
<line x1="163.5" y1="611.5" x2="163.5" y2="617" stroke="#333" stroke-width="0.9" />
<line x1="224" y1="611.5" x2="224" y2="617" stroke="#333" stroke-width="0.9" />
<line x1="284.5" y1="611.5" x2="284.5" y2="617" stroke="#333" stroke-width="0.9" />
<line x1="29.7" y1="584.4" x2="35.3" y2="584.4" stroke="#333" stroke-width="0.9" />
<text x="24.4" y="585.8" font-size="10" text-anchor="end" fill="#222" >10</text>
<text x="24.4" y="581.9" font-size="6" text-anchor="start" fill="#222"  stroke="#222" stroke-width="0.14">0</text>
<line x1="29.7" y1="556.3" x2="35.3" y2="556.3" stroke="#333" stroke-width="0.9" />
<text x="24.4" y="557.7" font-size="10" text-anchor="end" fill="#222" >10</text>
<text x="24.4" y="553.8" font-size="6" text-anchor="start" fill="#222"  stroke="#222" stroke-width="0.14">1</text>
<line x1="29.7" y1="528.5" x2="35.3" y2="528.5" stroke="#333" stroke-width="0.9" />
<text x="24.4" y="529.9" font-size="10" text-anchor="end" fill="#222" >10</text>
<text x="24.4" y="526" font-size="6" text-anchor="start" fill="#222"  stroke="#222" stroke-width="0.14">2</text>
<line x1="29.7" y1="500.3" x2="35.3" y2="500.3" stroke="#333" stroke-width="0.9" />
<text x="24.4" y="501.7" font-size="10" text-anchor="end" fill="#222" >10</text>
<text x="24.4" y="497.8" font-size="6" text-anchor="start" fill="#222"  stroke="#222" stroke-width="0.14">3</text>
<line x1="29.7" y1="472.1" x2="35.3" y2="472.1" stroke="#333" stroke-width="0.9" />
<text x="24.4" y="473.5" font-size="10" text-anchor="end" fill="#222" >10</text>
<text x="24.4" y="469.6" font-size="6" text-anchor="start" fill="#222"  stroke="#222" stroke-width="0.14">4</text>
<line x1="29.7" y1="599.6" x2="35.3" y2="599.6" stroke="#333" stroke-width="0.9" />
<text x="28.1" y="603.4" font-size="10.3" text-anchor="end" fill="#222" >ND</text>
<text x="0" y="0" font-size="10.2" text-anchor="middle" fill="#222" transform="translate(9.2,539) rotate(-90)">ctDNA (MTM/ml)</text>
<polyline points="42.7,533.4 49.3,599.6 55.5,574.5 62.8,599.6 69.1,599.6 76,599.6 84,599.6 90.6,599.6 97.2,599.6 168.7,599.6 186,562.8 202.6,536.9 215.5,539.5 221,493.1 224,493.1 245.6,562.1" fill="none" stroke="#111" stroke-width="0.9" stroke-linejoin="miter" />
<circle cx="42.7" cy="533.4" r="2.05" fill="#000"/>
<circle cx="49.3" cy="599.6" r="2.05" fill="#fff" stroke="#000" stroke-width="0.8"/>
<circle cx="55.5" cy="574.5" r="2.05" fill="#000"/>
<circle cx="62.8" cy="599.6" r="2.05" fill="#fff" stroke="#000" stroke-width="0.8"/>
<circle cx="69.1" cy="599.6" r="2.05" fill="#000"/>
<circle cx="76" cy="599.6" r="2.05" fill="#000"/>
<circle cx="84" cy="599.6" r="2.05" fill="#000"/>
<circle cx="90.6" cy="599.6" r="2.05" fill="#000"/>
<circle cx="97.2" cy="599.6" r="2.05" fill="#fff" stroke="#000" stroke-width="0.8"/>
<circle cx="168.7" cy="599.6" r="2.05" fill="#fff" stroke="#000" stroke-width="0.8"/>
<circle cx="186" cy="562.8" r="2.05" fill="#000"/>
<circle cx="202.6" cy="536.9" r="2.05" fill="#000"/>
<circle cx="215.5" cy="539.5" r="2.05" fill="#000"/>
<circle cx="221" cy="493.1" r="2.05" fill="#000"/>
<circle cx="224" cy="493.1" r="2.05" fill="#000"/>
<circle cx="245.6" cy="562.1" r="2.05" fill="#000"/>
<path d="M185.1,501.5 L185.1,498.4 L217.8,498.4 L217.8,501.5" fill="none" stroke="#222" stroke-width="0.9"/>
<text x="185" y="496.4" font-size="7.6" text-anchor="start" fill="#222"  stroke="#222" stroke-width="0.14">163 days</text>
<text x="217.8" y="462" font-size="7.5" text-anchor="middle" fill="#222"  stroke="#222" stroke-width="0.14">clinical relapse</text>
<path d="M215.84,464 L221.56,464 L218.7,469.2 Z" fill="#000"/>
<text x="295" y="462" font-size="7.5" text-anchor="middle" fill="#222"  stroke="#222" stroke-width="0.14">deceased</text>
<path d="M292.94,464 L298.66,464 L295.8,469.2 Z" fill="#000"/>
<rect x="43.1" y="621.8" width="59.9" height="83.4" fill="#d4d4d4" />
<rect x="118" y="648.6" width="12.9" height="56.6" fill="url(#h1)" />
<rect x="130.9" y="648.6" width="93.1" height="56.6" fill="#d7b8bb" />
<rect x="224" y="648.6" width="7" height="56.6" fill="#f4e8b6" />
<rect x="231" y="648.6" width="16" height="56.6" fill="#b6bd7c" />
<line x1="106.2" y1="621.8" x2="106.2" y2="705.2" stroke="#000" stroke-width="1.5" stroke-dasharray="3.8 3.1"/>
<line x1="35.3" y1="621.8" x2="35.3" y2="705.2" stroke="#333" stroke-width="0.9" />
<line x1="35.3" y1="705.2" x2="314.2" y2="705.2" stroke="#333" stroke-width="0.9" />
<line x1="29.7" y1="705.2" x2="35.3" y2="705.2" stroke="#333" stroke-width="0.9" />
<text x="27.4" y="709.5" font-size="10" text-anchor="end" fill="#222" >0</text>
<line x1="29.7" y1="677.4" x2="35.3" y2="677.4" stroke="#333" stroke-width="0.9" />
<text x="27.4" y="681.7" font-size="10" text-anchor="end" fill="#222" >50</text>
<line x1="29.7" y1="649.6" x2="35.3" y2="649.6" stroke="#333" stroke-width="0.9" />
<text x="27.4" y="653.9" font-size="10" text-anchor="end" fill="#222" >100</text>
<line x1="29.7" y1="621.8" x2="35.3" y2="621.8" stroke="#333" stroke-width="0.9" />
<text x="27.4" y="626.1" font-size="10" text-anchor="end" fill="#222" >150</text>
<line x1="42.5" y1="705.2" x2="42.5" y2="710.7" stroke="#333" stroke-width="0.9" />
<text x="42.5" y="721.2" font-size="10" text-anchor="middle" fill="#222" >0</text>
<line x1="103" y1="705.2" x2="103" y2="710.7" stroke="#333" stroke-width="0.9" />
<text x="103" y="721.2" font-size="10" text-anchor="middle" fill="#222" >200</text>
<line x1="163.5" y1="705.2" x2="163.5" y2="710.7" stroke="#333" stroke-width="0.9" />
<text x="163.5" y="721.2" font-size="10" text-anchor="middle" fill="#222" >400</text>
<line x1="224" y1="705.2" x2="224" y2="710.7" stroke="#333" stroke-width="0.9" />
<text x="224" y="721.2" font-size="10" text-anchor="middle" fill="#222" >600</text>
<line x1="284.5" y1="705.2" x2="284.5" y2="710.7" stroke="#333" stroke-width="0.9" />
<text x="284.5" y="721.2" font-size="10" text-anchor="middle" fill="#222" >800</text>
<text x="172.8" y="734" font-size="10" text-anchor="middle" fill="#222" >Time (days)</text>
<text x="0" y="0" font-size="10.2" text-anchor="middle" fill="#222" transform="translate(9.6,663) rotate(-90)">Tumor volume (ml)</text>
<polyline points="35.9,648.2 92.4,697.2 113.5,705.2 162.6,705.2 191.5,705.2 218.9,674.2" fill="none" stroke="#111" stroke-width="0.9" stroke-linejoin="miter" />
<circle cx="35.9" cy="648.2" r="2.05" fill="#000"/>
<circle cx="92.4" cy="697.2" r="2.05" fill="#000"/>
<circle cx="113.5" cy="705.2" r="2.05" fill="#000"/>
<circle cx="162.6" cy="705.2" r="2.05" fill="#000"/>
<circle cx="191.5" cy="705.2" r="2.05" fill="#000"/>
<circle cx="218.9" cy="674.2" r="2.05" fill="#000"/>
<path d="M162.5,699.3 L162.5,696.8 M162.5,699.3 L164.88,698.53 M162.5,699.3 L163.97,701.32 M162.5,699.3 L161.03,701.32 M162.5,699.3 L160.12,698.53 " stroke="#1a1a1a" stroke-width="1.15" stroke-linecap="round" fill="none"/>
<path d="M191.4,699.3 L191.4,696.8 M191.4,699.3 L193.78,698.53 M191.4,699.3 L192.87,701.32 M191.4,699.3 L189.93,701.32 M191.4,699.3 L189.02,698.53 " stroke="#1a1a1a" stroke-width="1.15" stroke-linecap="round" fill="none"/>
<rect x="119.6" y="626.25" width="5.7" height="5.7" fill="#d4d4d4" />
<text x="127.3" y="631.6" font-size="7.5" text-anchor="start" fill="#222"  stroke="#222" stroke-width="0.14">I2VA</text>
<line x1="149.3" y1="629.1" x2="158.6" y2="629.1" stroke="#000" stroke-width="1.3" stroke-dasharray="3.1 3.1"/>
<text x="161.3" y="631.6" font-size="7.5" text-anchor="start" fill="#222"  stroke="#222" stroke-width="0.14">surgery</text>
<rect x="191.1" y="626.25" width="5.7" height="5.7" fill="url(#hl)" />
<text x="198.8" y="631.6" font-size="7.5" text-anchor="start" fill="#222"  stroke="#222" stroke-width="0.14">radiotherapy</text>
<rect x="246.3" y="626.25" width="5.7" height="5.7" fill="#d7b8bb" />
<text x="255.5" y="631.6" font-size="7.5" text-anchor="start" fill="#222"  stroke="#222" stroke-width="0.14">maintenance</text>
<rect x="119.6" y="636.55" width="5.7" height="5.7" fill="#f4e8b6" />
<text x="127.3" y="641.9" font-size="7.5" text-anchor="start" fill="#222"  stroke="#222" stroke-width="0.14">TECC</text>
<rect x="151.4" y="636.55" width="5.7" height="5.7" fill="#b6bd7c" />
<text x="159.1" y="641.9" font-size="7.5" text-anchor="start" fill="#222"  stroke="#222" stroke-width="0.14">O-TIE</text>
<rect x="36.6" y="746.2" width="12.8" height="111.1" fill="#f0f0f0" />
<rect x="54.17" y="746.2" width="12.8" height="111.1" fill="#f0f0f0" />
<rect x="71.74" y="746.2" width="12.8" height="111.1" fill="#f0f0f0" />
<rect x="89.31" y="746.2" width="12.8" height="111.1" fill="#f0f0f0" />
<rect x="106.88" y="746.2" width="12.8" height="111.1" fill="#f0f0f0" />
<rect x="124.45" y="746.2" width="12.8" height="111.1" fill="#f0f0f0" />
<rect x="142.02" y="746.2" width="12.8" height="111.1" fill="#f0f0f0" />
<rect x="159.59" y="746.2" width="12.8" height="111.1" fill="#f0f0f0" />
<rect x="177.16" y="746.2" width="12.8" height="111.1" fill="#f0f0f0" />
<rect x="194.73" y="746.2" width="12.8" height="111.1" fill="#f0f0f0" />
<rect x="212.3" y="746.2" width="12.8" height="111.1" fill="#f0f0f0" />
<rect x="229.87" y="746.2" width="12.8" height="111.1" fill="#f0f0f0" />
<rect x="247.44" y="746.2" width="12.8" height="111.1" fill="#f0f0f0" />
<rect x="265.01" y="746.2" width="12.8" height="111.1" fill="#f0f0f0" />
<rect x="282.58" y="746.2" width="12.8" height="111.1" fill="#f0f0f0" />
<rect x="300.15" y="746.2" width="12.8" height="111.1" fill="#f0f0f0" />
<rect x="42.2" y="840.68" width="1.4" height="16.62" fill="#b5b97e" />
<rect x="45" y="808.7" width="1.4" height="48.6" fill="#7ea5ca" />
<rect x="46.4" y="807.67" width="1.4" height="49.63" fill="#c680a7" />
<rect x="61.17" y="850.7" width="1.4" height="6.6" fill="#c17874" />
<rect x="62.57" y="850.7" width="1.4" height="6.6" fill="#7ea5ca" />
<rect x="78.74" y="836.02" width="1.4" height="21.28" fill="#c17874" />
<rect x="80.14" y="840.68" width="1.4" height="16.62" fill="#7ea5ca" />
<rect x="96.31" y="850.7" width="1.4" height="6.6" fill="#c17874" />
<rect x="185.56" y="850.7" width="1.4" height="6.6" fill="#7ea5ca" />
<rect x="186.96" y="844.38" width="1.4" height="12.92" fill="#c680a7" />
<rect x="203.13" y="844.38" width="1.4" height="12.92" fill="#7ea5ca" />
<rect x="204.53" y="850.7" width="1.4" height="6.6" fill="#c680a7" />
<rect x="220.7" y="832.95" width="1.4" height="24.35" fill="#7ea5ca" />
<rect x="222.1" y="828.04" width="1.4" height="29.26" fill="#c680a7" />
<rect x="235.47" y="844.38" width="1.4" height="12.92" fill="#b5b97e" />
<rect x="238.27" y="813.06" width="1.4" height="44.24" fill="#7ea5ca" />
<rect x="239.67" y="808.26" width="1.4" height="49.04" fill="#c680a7" />
<rect x="253.04" y="850.7" width="1.4" height="6.6" fill="#b5b97e" />
<rect x="255.84" y="816.19" width="1.4" height="41.11" fill="#7ea5ca" />
<rect x="257.24" y="810.18" width="1.4" height="47.12" fill="#c680a7" />
<rect x="270.61" y="811.95" width="1.4" height="45.35" fill="#b5b97e" />
<rect x="273.41" y="782.34" width="1.4" height="74.96" fill="#7ea5ca" />
<rect x="274.81" y="775.06" width="1.4" height="82.24" fill="#c680a7" />
<rect x="288.18" y="813.06" width="1.4" height="44.24" fill="#b5b97e" />
<rect x="290.98" y="782.09" width="1.4" height="75.21" fill="#7ea5ca" />
<rect x="292.38" y="774.4" width="1.4" height="82.9" fill="#c680a7" />
<rect x="308.55" y="831.74" width="1.4" height="25.56" fill="#7ea5ca" />
<rect x="309.95" y="828.04" width="1.4" height="29.26" fill="#c680a7" />
<rect x="114.2" y="744.5" width="200.3" height="24.5" fill="#fff" />
<line x1="36.1" y1="745.8" x2="36.1" y2="857.3" stroke="#333" stroke-width="0.9" />
<line x1="36.1" y1="857.3" x2="315.1" y2="857.3" stroke="#333" stroke-width="0.9" />
<line x1="30.5" y1="850.7" x2="36.1" y2="850.7" stroke="#333" stroke-width="0.9" />
<text x="26.5" y="854.2" font-size="10" text-anchor="end" fill="#222" >10</text>
<text x="26.5" y="850.3" font-size="6" text-anchor="start" fill="#222"  stroke="#222" stroke-width="0.14">0</text>
<line x1="30.5" y1="829.8" x2="36.1" y2="829.8" stroke="#333" stroke-width="0.9" />
<text x="26.5" y="833.3" font-size="10" text-anchor="end" fill="#222" >10</text>
<text x="26.5" y="829.4" font-size="6" text-anchor="start" fill="#222"  stroke="#222" stroke-width="0.14">1</text>
<line x1="30.5" y1="808.4" x2="36.1" y2="808.4" stroke="#333" stroke-width="0.9" />
<text x="26.5" y="811.9" font-size="10" text-anchor="end" fill="#222" >10</text>
<text x="26.5" y="808" font-size="6" text-anchor="start" fill="#222"  stroke="#222" stroke-width="0.14">2</text>
<line x1="30.5" y1="787.7" x2="36.1" y2="787.7" stroke="#333" stroke-width="0.9" />
<text x="26.5" y="791.2" font-size="10" text-anchor="end" fill="#222" >10</text>
<text x="26.5" y="787.3" font-size="6" text-anchor="start" fill="#222"  stroke="#222" stroke-width="0.14">3</text>
<line x1="30.5" y1="766.9" x2="36.1" y2="766.9" stroke="#333" stroke-width="0.9" />
<text x="26.5" y="770.4" font-size="10" text-anchor="end" fill="#222" >10</text>
<text x="26.5" y="766.5" font-size="6" text-anchor="start" fill="#222"  stroke="#222" stroke-width="0.14">4</text>
<line x1="30.5" y1="745.8" x2="36.1" y2="745.8" stroke="#333" stroke-width="0.9" />
<text x="26.5" y="749.3" font-size="10" text-anchor="end" fill="#222" >10</text>
<text x="26.5" y="745.4" font-size="6" text-anchor="start" fill="#222"  stroke="#222" stroke-width="0.14">5</text>
<line x1="43.6" y1="857.3" x2="43.6" y2="862.8" stroke="#333" stroke-width="0.9" />
<line x1="61.17" y1="857.3" x2="61.17" y2="862.8" stroke="#333" stroke-width="0.9" />
<line x1="78.74" y1="857.3" x2="78.74" y2="862.8" stroke="#333" stroke-width="0.9" />
<line x1="96.31" y1="857.3" x2="96.31" y2="862.8" stroke="#333" stroke-width="0.9" />
<line x1="113.88" y1="857.3" x2="113.88" y2="862.8" stroke="#333" stroke-width="0.9" />
<line x1="131.45" y1="857.3" x2="131.45" y2="862.8" stroke="#333" stroke-width="0.9" />
<line x1="149.02" y1="857.3" x2="149.02" y2="862.8" stroke="#333" stroke-width="0.9" />
<line x1="166.59" y1="857.3" x2="166.59" y2="862.8" stroke="#333" stroke-width="0.9" />
<line x1="184.16" y1="857.3" x2="184.16" y2="862.8" stroke="#333" stroke-width="0.9" />
<line x1="201.73" y1="857.3" x2="201.73" y2="862.8" stroke="#333" stroke-width="0.9" />
<line x1="219.3" y1="857.3" x2="219.3" y2="862.8" stroke="#333" stroke-width="0.9" />
<line x1="236.87" y1="857.3" x2="236.87" y2="862.8" stroke="#333" stroke-width="0.9" />
<line x1="254.44" y1="857.3" x2="254.44" y2="862.8" stroke="#333" stroke-width="0.9" />
<line x1="272.01" y1="857.3" x2="272.01" y2="862.8" stroke="#333" stroke-width="0.9" />
<line x1="289.58" y1="857.3" x2="289.58" y2="862.8" stroke="#333" stroke-width="0.9" />
<line x1="307.15" y1="857.3" x2="307.15" y2="862.8" stroke="#333" stroke-width="0.9" />
<text x="0" y="0" font-size="8.5" text-anchor="end" fill="#222" transform="translate(48.5,868.3) rotate(-45)">0</text>
<text x="0" y="0" font-size="8.5" text-anchor="end" fill="#222" transform="translate(64.77,868.3) rotate(-45)">22</text>
<text x="0" y="0" font-size="8.5" text-anchor="end" fill="#222" transform="translate(82.34,868.3) rotate(-45)">43</text>
<text x="0" y="0" font-size="8.5" text-anchor="end" fill="#222" transform="translate(99.91,868.3) rotate(-45)">67</text>
<text x="0" y="0" font-size="8.5" text-anchor="end" fill="#222" transform="translate(117.48,868.3) rotate(-45)">88</text>
<text x="0" y="0" font-size="8.5" text-anchor="end" fill="#222" transform="translate(135.05,868.3) rotate(-45)">111</text>
<text x="0" y="0" font-size="8.5" text-anchor="end" fill="#222" transform="translate(152.62,868.3) rotate(-45)">138</text>
<text x="0" y="0" font-size="8.5" text-anchor="end" fill="#222" transform="translate(170.19,868.3) rotate(-45)">159</text>
<text x="0" y="0" font-size="8.5" text-anchor="end" fill="#222" transform="translate(187.76,868.3) rotate(-45)">180</text>
<text x="0" y="0" font-size="8.5" text-anchor="end" fill="#222" transform="translate(205.33,868.3) rotate(-45)">419</text>
<text x="0" y="0" font-size="8.5" text-anchor="end" fill="#222" transform="translate(222.9,868.3) rotate(-45)">475</text>
<text x="0" y="0" font-size="8.5" text-anchor="end" fill="#222" transform="translate(240.47,868.3) rotate(-45)">531</text>
<text x="0" y="0" font-size="8.5" text-anchor="end" fill="#222" transform="translate(258.04,868.3) rotate(-45)">574</text>
<text x="0" y="0" font-size="8.5" text-anchor="end" fill="#222" transform="translate(275.61,868.3) rotate(-45)">593</text>
<text x="0" y="0" font-size="8.5" text-anchor="end" fill="#222" transform="translate(293.18,868.3) rotate(-45)">601</text>
<text x="0" y="0" font-size="8.5" text-anchor="end" fill="#222" transform="translate(310.75,868.3) rotate(-45)">672</text>
<text x="172.8" y="887.6" font-size="10" text-anchor="middle" fill="#222" >Time (days)</text>
<text x="0" y="0" font-size="10.2" text-anchor="middle" fill="#222" transform="translate(9.2,796) rotate(-90)">Mutated tumor molecules (n)</text>
<rect x="118.7" y="747.75" width="5.7" height="5.7" fill="#9d8fd5" />
<text x="126.4" y="753.1" font-size="7.5" text-anchor="start" fill="#222" font-style="italic" stroke="#222" stroke-width="0.14">DNAJC6</text>
<rect x="118.7" y="758.05" width="5.7" height="5.7" fill="#c17874" />
<text x="126.4" y="763.4" font-size="7.5" text-anchor="start" fill="#222" font-style="italic" stroke="#222" stroke-width="0.14">JAGN1</text>
<rect x="160.8" y="747.75" width="5.7" height="5.7" fill="#c680a7" />
<text x="168.5" y="753.1" font-size="7.5" text-anchor="start" fill="#222" font-style="italic" stroke="#222" stroke-width="0.14">PCLO</text>
<rect x="160.8" y="758.05" width="5.7" height="5.7" fill="#bdbdbd" />
<text x="168.5" y="763.4" font-size="7.5" text-anchor="start" fill="#222" font-style="italic" stroke="#222" stroke-width="0.14">CILP</text>
<rect x="197.4" y="747.75" width="5.7" height="5.7" fill="#7ea5ca" />
<text x="205.1" y="753.1" font-size="7.5" text-anchor="start" fill="#222" font-style="italic" stroke="#222" stroke-width="0.14">FAT4</text>
<rect x="197.4" y="758.05" width="5.7" height="5.7" fill="#f1b7b8" />
<text x="205.1" y="763.4" font-size="7.5" text-anchor="start" fill="#222" font-style="italic" stroke="#222" stroke-width="0.14">EMC7</text>
<rect x="232.2" y="747.75" width="5.7" height="5.7" fill="#b5b97e" />
<text x="239.9" y="753.1" font-size="7.5" text-anchor="start" fill="#222" font-style="italic" stroke="#222" stroke-width="0.14">KIF2B</text>
<rect x="232.2" y="758.05" width="5.7" height="5.7" fill="#adb5f7" />
<text x="239.9" y="763.4" font-size="7.5" text-anchor="start" fill="#222" font-style="italic" stroke="#222" stroke-width="0.14">COL14A1</text>
<rect x="277.2" y="747.75" width="5.7" height="5.7" fill="#8ec99c" />
<text x="284.9" y="753.1" font-size="7.5" text-anchor="start" fill="#222" font-style="italic" stroke="#222" stroke-width="0.14">PHKG2</text>
<rect x="277.2" y="758.05" width="5.7" height="5.7" fill="#f1f57a" />
<text x="284.9" y="763.4" font-size="7.5" text-anchor="start" fill="#222" font-style="italic" stroke="#222" stroke-width="0.14">C9orf42</text>
<text x="354.8" y="460.6" font-size="20" text-anchor="start" fill="#222" >D</text>
<text x="392.8" y="463.9" font-size="16.4" text-anchor="start" fill="#222" >C102</text>
<rect x="403.9" y="472.6" width="16" height="139.4" fill="#b9d9a1" />
<rect x="419.9" y="472.6" width="15.8" height="139.4" fill="#a3bdd1" />
<rect x="435.7" y="472.6" width="16.1" height="139.4" fill="#b9d9a1" />
<rect x="451.8" y="472.6" width="109.2" height="139.4" fill="#f4e8b6" />
<rect x="561" y="472.6" width="42.7" height="139.4" fill="#e3b09a" />
<rect x="612.9" y="472.6" width="28.6" height="139.4" fill="url(#h1)" />
<line x1="394" y1="589.2" x2="670.5" y2="589.2" stroke="#111" stroke-width="1.2" stroke-dasharray="1.3 2.97"/>
<line x1="392.5" y1="472.6" x2="392.5" y2="612" stroke="#333" stroke-width="0.9" />
<line x1="392.5" y1="612" x2="671" y2="612" stroke="#333" stroke-width="0.9" />
<line x1="403.8" y1="612" x2="403.8" y2="617.5" stroke="#333" stroke-width="0.9" />
<line x1="479.9" y1="612" x2="479.9" y2="617.5" stroke="#333" stroke-width="0.9" />
<line x1="556" y1="612" x2="556" y2="617.5" stroke="#333" stroke-width="0.9" />
<line x1="632.1" y1="612" x2="632.1" y2="617.5" stroke="#333" stroke-width="0.9" />
<line x1="386.9" y1="588.9" x2="392.5" y2="588.9" stroke="#333" stroke-width="0.9" />
<text x="380.2" y="592.1" font-size="10" text-anchor="end" fill="#222" >10</text>
<text x="380.2" y="588.2" font-size="6" text-anchor="start" fill="#222"  stroke="#222" stroke-width="0.14">0</text>
<line x1="386.9" y1="565.5" x2="392.5" y2="565.5" stroke="#333" stroke-width="0.9" />
<text x="380.2" y="568.7" font-size="10" text-anchor="end" fill="#222" >10</text>
<text x="380.2" y="564.8" font-size="6" text-anchor="start" fill="#222"  stroke="#222" stroke-width="0.14">1</text>
<line x1="386.9" y1="542.4" x2="392.5" y2="542.4" stroke="#333" stroke-width="0.9" />
<text x="380.2" y="545.6" font-size="10" text-anchor="end" fill="#222" >10</text>
<text x="380.2" y="541.7" font-size="6" text-anchor="start" fill="#222"  stroke="#222" stroke-width="0.14">2</text>
<line x1="386.9" y1="519.1" x2="392.5" y2="519.1" stroke="#333" stroke-width="0.9" />
<text x="380.2" y="522.3" font-size="10" text-anchor="end" fill="#222" >10</text>
<text x="380.2" y="518.4" font-size="6" text-anchor="start" fill="#222"  stroke="#222" stroke-width="0.14">3</text>
<line x1="386.9" y1="495.7" x2="392.5" y2="495.7" stroke="#333" stroke-width="0.9" />
<text x="380.2" y="498.9" font-size="10" text-anchor="end" fill="#222" >10</text>
<text x="380.2" y="495" font-size="6" text-anchor="start" fill="#222"  stroke="#222" stroke-width="0.14">4</text>
<line x1="386.9" y1="472.6" x2="392.5" y2="472.6" stroke="#333" stroke-width="0.9" />
<text x="380.2" y="475.8" font-size="10" text-anchor="end" fill="#222" >10</text>
<text x="380.2" y="471.9" font-size="6" text-anchor="start" fill="#222"  stroke="#222" stroke-width="0.14">5</text>
<line x1="386.9" y1="601.3" x2="392.5" y2="601.3" stroke="#333" stroke-width="0.9" />
<text x="385.3" y="605.1" font-size="10.3" text-anchor="end" fill="#222" >ND</text>
<text x="0" y="0" font-size="10.2" text-anchor="middle" fill="#222" transform="translate(365.2,541.5) rotate(-90)">ctDNA (MTM/ml)</text>
<polyline points="403.8,492.7 419.6,566 435.9,585.1 448.4,575.7 467.3,571.3 483.1,574.8 499,574.4 537.2,551 561,533 576.8,548.8 592.9,528.3" fill="none" stroke="#111" stroke-width="0.9" stroke-linejoin="miter" />
<circle cx="403.8" cy="492.7" r="2.05" fill="#000"/>
<circle cx="419.6" cy="566" r="2.05" fill="#000"/>
<circle cx="435.9" cy="585.1" r="2.05" fill="#000"/>
<circle cx="448.4" cy="575.7" r="2.05" fill="#000"/>
<circle cx="467.3" cy="571.3" r="2.05" fill="#000"/>
<circle cx="483.1" cy="574.8" r="2.05" fill="#000"/>
<circle cx="499" cy="574.4" r="2.05" fill="#000"/>
<circle cx="537.2" cy="551" r="2.05" fill="#000"/>
<circle cx="561" cy="533" r="2.05" fill="#000"/>
<circle cx="576.8" cy="548.8" r="2.05" fill="#000"/>
<circle cx="592.9" cy="528.3" r="2.05" fill="#000"/>
<text x="650" y="462" font-size="7.5" text-anchor="middle" fill="#222"  stroke="#222" stroke-width="0.14">deceased</text>
<path d="M648.26,464.2 L653.54,464.2 L650.9,469 Z" fill="#000"/>
<rect x="403.9" y="636.9" width="16" height="69.6" fill="#b9d9a1" />
<rect x="419.9" y="636.9" width="15.8" height="69.6" fill="#a3bdd1" />
<rect x="435.7" y="636.9" width="16.1" height="69.6" fill="#b9d9a1" />
<rect x="451.8" y="636.9" width="109.2" height="69.6" fill="#f4e8b6" />
<rect x="561" y="622.6" width="42.7" height="83.9" fill="#e3b09a" />
<rect x="612.9" y="622.6" width="28.6" height="83.9" fill="url(#h1)" />
<rect x="561" y="622.1" width="20" height="14.8" fill="#fff" />
<line x1="392.5" y1="622.6" x2="392.5" y2="706.5" stroke="#333" stroke-width="0.9" />
<line x1="392.5" y1="706.5" x2="671" y2="706.5" stroke="#333" stroke-width="0.9" />
<line x1="386.9" y1="706.5" x2="392.5" y2="706.5" stroke="#333" stroke-width="0.9" />
<text x="384.6" y="710.8" font-size="10" text-anchor="end" fill="#222" >0</text>
<line x1="386.9" y1="685.52" x2="392.5" y2="685.52" stroke="#333" stroke-width="0.9" />
<text x="384.6" y="689.82" font-size="10" text-anchor="end" fill="#222" >100</text>
<line x1="386.9" y1="664.55" x2="392.5" y2="664.55" stroke="#333" stroke-width="0.9" />
<text x="384.6" y="668.85" font-size="10" text-anchor="end" fill="#222" >200</text>
<line x1="386.9" y1="643.58" x2="392.5" y2="643.58" stroke="#333" stroke-width="0.9" />
<text x="384.6" y="647.88" font-size="10" text-anchor="end" fill="#222" >300</text>
<line x1="386.9" y1="622.6" x2="392.5" y2="622.6" stroke="#333" stroke-width="0.9" />
<text x="384.6" y="626.9" font-size="10" text-anchor="end" fill="#222" >400</text>
<line x1="403.8" y1="706.5" x2="403.8" y2="712" stroke="#333" stroke-width="0.9" />
<text x="403.8" y="722.5" font-size="10" text-anchor="middle" fill="#222" >0</text>
<line x1="479.9" y1="706.5" x2="479.9" y2="712" stroke="#333" stroke-width="0.9" />
<text x="479.9" y="722.5" font-size="10" text-anchor="middle" fill="#222" >100</text>
<line x1="556" y1="706.5" x2="556" y2="712" stroke="#333" stroke-width="0.9" />
<text x="556" y="722.5" font-size="10" text-anchor="middle" fill="#222" >200</text>
<line x1="632.1" y1="706.5" x2="632.1" y2="712" stroke="#333" stroke-width="0.9" />
<text x="632.1" y="722.5" font-size="10" text-anchor="middle" fill="#222" >300</text>
<text x="535.2" y="733.6" font-size="10" text-anchor="middle" fill="#222" >Time (days)</text>
<text x="0" y="0" font-size="10.2" text-anchor="middle" fill="#222" transform="translate(363.5,663) rotate(-90)">Tumor volume (ml)</text>
<polyline points="395,695.4 442.7,687.4 478.6,682.1 511.6,677.6 601.8,630.3" fill="none" stroke="#111" stroke-width="0.9" stroke-linejoin="miter" />
<circle cx="395" cy="695.4" r="2.05" fill="#000"/>
<circle cx="442.7" cy="687.4" r="2.05" fill="#000"/>
<circle cx="478.6" cy="682.1" r="2.05" fill="#000"/>
<circle cx="511.6" cy="677.6" r="2.05" fill="#000"/>
<circle cx="601.8" cy="630.3" r="2.05" fill="#000"/>
<rect x="404.3" y="625.25" width="5.7" height="5.7" fill="#b9d9a1" />
<text x="412" y="630.6" font-size="7.5" text-anchor="start" fill="#222"  stroke="#222" stroke-width="0.14">I3VA/E</text>
<rect x="440.1" y="625.25" width="5.7" height="5.7" fill="#a3bdd1" />
<text x="447.8" y="630.6" font-size="7.5" text-anchor="start" fill="#222"  stroke="#222" stroke-width="0.14">CEV</text>
<rect x="468.8" y="625.25" width="5.7" height="5.7" fill="#f4e8b6" />
<text x="476.5" y="630.6" font-size="7.5" text-anchor="start" fill="#222"  stroke="#222" stroke-width="0.14">TECC</text>
<rect x="502" y="625.25" width="5.7" height="5.7" fill="#e3b09a" />
<text x="509.7" y="630.6" font-size="7.5" text-anchor="start" fill="#222"  stroke="#222" stroke-width="0.14">VIT</text>
<rect x="527" y="625.25" width="5.7" height="5.7" fill="url(#hl)" />
<text x="534.7" y="630.6" font-size="7.5" text-anchor="start" fill="#222"  stroke="#222" stroke-width="0.14">radiotherapy</text>
<rect x="393.8" y="746.8" width="20.4" height="110.4" fill="#f0f0f0" />
<rect x="419.39" y="746.8" width="20.4" height="110.4" fill="#f0f0f0" />
<rect x="444.98" y="746.8" width="20.4" height="110.4" fill="#f0f0f0" />
<rect x="470.57" y="746.8" width="20.4" height="110.4" fill="#f0f0f0" />
<rect x="496.16" y="746.8" width="20.4" height="110.4" fill="#f0f0f0" />
<rect x="521.75" y="746.8" width="20.4" height="110.4" fill="#f0f0f0" />
<rect x="547.34" y="746.8" width="20.4" height="110.4" fill="#f0f0f0" />
<rect x="572.93" y="746.8" width="20.4" height="110.4" fill="#f0f0f0" />
<rect x="598.52" y="746.8" width="20.4" height="110.4" fill="#f0f0f0" />
<rect x="624.11" y="746.8" width="20.4" height="110.4" fill="#f0f0f0" />
<rect x="649.7" y="746.8" width="20.4" height="110.4" fill="#f0f0f0" />
<rect x="393.65" y="837.19" width="2.03" height="20.01" fill="#7ea5ca" />
<rect x="397.71" y="780.63" width="2.03" height="76.57" fill="#b5b97e" />
<rect x="399.74" y="833.97" width="2.03" height="23.23" fill="#c17874" />
<rect x="411.92" y="841.73" width="2.03" height="15.47" fill="#8ec99c" />
<rect x="423.3" y="827.7" width="2.03" height="29.5" fill="#b5b97e" />
<rect x="425.33" y="823.7" width="2.03" height="33.5" fill="#c17874" />
<rect x="437.51" y="833.97" width="2.03" height="23.23" fill="#8ec99c" />
<rect x="448.89" y="837.19" width="2.03" height="20.01" fill="#b5b97e" />
<rect x="450.92" y="849.5" width="2.03" height="7.7" fill="#c17874" />
<rect x="463.1" y="849.5" width="2.03" height="7.7" fill="#8ec99c" />
<rect x="474.48" y="837.19" width="2.03" height="20.01" fill="#b5b97e" />
<rect x="476.51" y="833.97" width="2.03" height="23.23" fill="#c17874" />
<rect x="488.69" y="841.73" width="2.03" height="15.47" fill="#8ec99c" />
<rect x="500.07" y="831.47" width="2.03" height="25.73" fill="#b5b97e" />
<rect x="502.1" y="829.42" width="2.03" height="27.78" fill="#c17874" />
<rect x="514.28" y="841.73" width="2.03" height="15.47" fill="#8ec99c" />
<rect x="521.6" y="849.5" width="2.03" height="7.7" fill="#7ea5ca" />
<rect x="525.66" y="837.19" width="2.03" height="20.01" fill="#b5b97e" />
<rect x="527.69" y="824.88" width="2.03" height="32.32" fill="#c17874" />
<rect x="539.87" y="849.5" width="2.03" height="7.7" fill="#8ec99c" />
<rect x="547.19" y="849.5" width="2.03" height="7.7" fill="#7ea5ca" />
<rect x="551.25" y="837.19" width="2.03" height="20.01" fill="#b5b97e" />
<rect x="553.28" y="824.88" width="2.03" height="32.32" fill="#c17874" />
<rect x="565.46" y="841.73" width="2.03" height="15.47" fill="#8ec99c" />
<rect x="572.78" y="841.73" width="2.03" height="15.47" fill="#7ea5ca" />
<rect x="574.81" y="831.47" width="2.03" height="25.73" fill="#dfb5f3" />
<rect x="576.84" y="810.32" width="2.03" height="46.88" fill="#b5b97e" />
<rect x="578.87" y="802.22" width="2.03" height="54.98" fill="#c17874" />
<rect x="591.05" y="807.89" width="2.03" height="49.31" fill="#8ec99c" />
<rect x="598.37" y="817.11" width="2.03" height="40.09" fill="#7ea5ca" />
<rect x="600.4" y="815.39" width="2.03" height="41.81" fill="#dfb5f3" />
<rect x="602.43" y="796.14" width="2.03" height="61.06" fill="#b5b97e" />
<rect x="604.46" y="789.22" width="2.03" height="67.98" fill="#c17874" />
<rect x="616.64" y="789.91" width="2.03" height="67.29" fill="#8ec99c" />
<rect x="623.96" y="849.5" width="2.03" height="7.7" fill="#7ea5ca" />
<rect x="625.99" y="833.97" width="2.03" height="23.23" fill="#dfb5f3" />
<rect x="628.02" y="806.6" width="2.03" height="50.6" fill="#b5b97e" />
<rect x="630.05" y="800.4" width="2.03" height="56.8" fill="#c17874" />
<rect x="642.23" y="805.23" width="2.03" height="51.97" fill="#8ec99c" />
<rect x="649.55" y="808.74" width="2.03" height="48.46" fill="#7ea5ca" />
<rect x="651.58" y="806.6" width="2.03" height="50.6" fill="#dfb5f3" />
<rect x="653.61" y="792.63" width="2.03" height="64.57" fill="#b5b97e" />
<rect x="655.64" y="782.65" width="2.03" height="74.55" fill="#c17874" />
<rect x="667.82" y="785.22" width="2.03" height="71.98" fill="#8ec99c" />
<rect x="452.6" y="745" width="217.9" height="23.9" fill="#fff" />
<line x1="392.4" y1="746.3" x2="392.4" y2="857.2" stroke="#333" stroke-width="0.9" />
<line x1="392.4" y1="857.2" x2="671.5" y2="857.2" stroke="#333" stroke-width="0.9" />
<line x1="386.8" y1="849.5" x2="392.4" y2="849.5" stroke="#333" stroke-width="0.9" />
<text x="382.8" y="852.7" font-size="10" text-anchor="end" fill="#222" >10</text>
<text x="382.8" y="848.8" font-size="6" text-anchor="start" fill="#222"  stroke="#222" stroke-width="0.14">0</text>
<line x1="386.8" y1="823.7" x2="392.4" y2="823.7" stroke="#333" stroke-width="0.9" />
<text x="382.8" y="826.9" font-size="10" text-anchor="end" fill="#222" >10</text>
<text x="382.8" y="823" font-size="6" text-anchor="start" fill="#222"  stroke="#222" stroke-width="0.14">1</text>
<line x1="386.8" y1="797.9" x2="392.4" y2="797.9" stroke="#333" stroke-width="0.9" />
<text x="382.8" y="801.1" font-size="10" text-anchor="end" fill="#222" >10</text>
<text x="382.8" y="797.2" font-size="6" text-anchor="start" fill="#222"  stroke="#222" stroke-width="0.14">2</text>
<line x1="386.8" y1="772.1" x2="392.4" y2="772.1" stroke="#333" stroke-width="0.9" />
<text x="382.8" y="775.3" font-size="10" text-anchor="end" fill="#222" >10</text>
<text x="382.8" y="771.4" font-size="6" text-anchor="start" fill="#222"  stroke="#222" stroke-width="0.14">3</text>
<line x1="386.8" y1="746.3" x2="392.4" y2="746.3" stroke="#333" stroke-width="0.9" />
<text x="382.8" y="749.5" font-size="10" text-anchor="end" fill="#222" >10</text>
<text x="382.8" y="745.6" font-size="6" text-anchor="start" fill="#222"  stroke="#222" stroke-width="0.14">4</text>
<line x1="403.8" y1="857.2" x2="403.8" y2="862.7" stroke="#333" stroke-width="0.9" />
<line x1="429.39" y1="857.2" x2="429.39" y2="862.7" stroke="#333" stroke-width="0.9" />
<line x1="454.98" y1="857.2" x2="454.98" y2="862.7" stroke="#333" stroke-width="0.9" />
<line x1="480.57" y1="857.2" x2="480.57" y2="862.7" stroke="#333" stroke-width="0.9" />
<line x1="506.16" y1="857.2" x2="506.16" y2="862.7" stroke="#333" stroke-width="0.9" />
<line x1="531.75" y1="857.2" x2="531.75" y2="862.7" stroke="#333" stroke-width="0.9" />
<line x1="557.34" y1="857.2" x2="557.34" y2="862.7" stroke="#333" stroke-width="0.9" />
<line x1="582.93" y1="857.2" x2="582.93" y2="862.7" stroke="#333" stroke-width="0.9" />
<line x1="608.52" y1="857.2" x2="608.52" y2="862.7" stroke="#333" stroke-width="0.9" />
<line x1="634.11" y1="857.2" x2="634.11" y2="862.7" stroke="#333" stroke-width="0.9" />
<line x1="659.7" y1="857.2" x2="659.7" y2="862.7" stroke="#333" stroke-width="0.9" />
<text x="0" y="0" font-size="8.5" text-anchor="end" fill="#222" transform="translate(408.7,868.2) rotate(-45)">0</text>
<text x="0" y="0" font-size="8.5" text-anchor="end" fill="#222" transform="translate(432.99,868.2) rotate(-45)">21</text>
<text x="0" y="0" font-size="8.5" text-anchor="end" fill="#222" transform="translate(458.58,868.2) rotate(-45)">42</text>
<text x="0" y="0" font-size="8.5" text-anchor="end" fill="#222" transform="translate(484.17,868.2) rotate(-45)">58</text>
<text x="0" y="0" font-size="8.5" text-anchor="end" fill="#222" transform="translate(509.76,868.2) rotate(-45)">83</text>
<text x="0" y="0" font-size="8.5" text-anchor="end" fill="#222" transform="translate(535.35,868.2) rotate(-45)">104</text>
<text x="0" y="0" font-size="8.5" text-anchor="end" fill="#222" transform="translate(560.94,868.2) rotate(-45)">125</text>
<text x="0" y="0" font-size="8.5" text-anchor="end" fill="#222" transform="translate(586.53,868.2) rotate(-45)">175</text>
<text x="0" y="0" font-size="8.5" text-anchor="end" fill="#222" transform="translate(612.12,868.2) rotate(-45)">206</text>
<text x="0" y="0" font-size="8.5" text-anchor="end" fill="#222" transform="translate(637.71,868.2) rotate(-45)">227</text>
<text x="0" y="0" font-size="8.5" text-anchor="end" fill="#222" transform="translate(663.3,868.2) rotate(-45)">248</text>
<text x="535" y="887.8" font-size="10" text-anchor="middle" fill="#222" >Time (days)</text>
<text x="0" y="0" font-size="10.2" text-anchor="middle" fill="#222" transform="translate(363.8,798) rotate(-90)">Mutated tumor molecules (n)</text>
<rect x="455.3" y="748.05" width="5.7" height="5.7" fill="#dfb5f3" />
<text x="463" y="753.4" font-size="7.5" text-anchor="start" fill="#222" font-style="italic" stroke="#222" stroke-width="0.14">COL20A1</text>
<rect x="455.3" y="758.15" width="5.7" height="5.7" fill="#adb5f7" />
<text x="463" y="763.5" font-size="7.5" text-anchor="start" fill="#222" font-style="italic" stroke="#222" stroke-width="0.14">MCM7</text>
<rect x="502.9" y="748.05" width="5.7" height="5.7" fill="#b5b97e" />
<text x="510.6" y="753.4" font-size="7.5" text-anchor="start" fill="#222" font-style="italic" stroke="#222" stroke-width="0.14">COMTD</text>
<rect x="502.9" y="758.15" width="5.7" height="5.7" fill="#bff3e3" />
<text x="510.6" y="763.5" font-size="7.5" text-anchor="start" fill="#222" font-style="italic" stroke="#222" stroke-width="0.14">PHKA2</text>
<rect x="545.8" y="748.05" width="5.7" height="5.7" fill="#c17874" />
<text x="553.5" y="753.4" font-size="7.5" text-anchor="start" fill="#222" font-style="italic" stroke="#222" stroke-width="0.14">DGK1</text>
<rect x="545.8" y="758.15" width="5.7" height="5.7" fill="#f1f57a" />
<text x="553.5" y="763.5" font-size="7.5" text-anchor="start" fill="#222" font-style="italic" stroke="#222" stroke-width="0.14">RYR3</text>
<rect x="581.6" y="748.05" width="5.7" height="5.7" fill="#bdbdbd" />
<text x="589.3" y="753.4" font-size="7.5" text-anchor="start" fill="#222" font-style="italic" stroke="#222" stroke-width="0.14">FAM219B</text>
<rect x="581.6" y="758.15" width="5.7" height="5.7" fill="#8ec99c" />
<text x="589.3" y="763.5" font-size="7.5" text-anchor="start" fill="#222" font-style="italic" stroke="#222" stroke-width="0.14">TP53</text>
<rect x="628.9" y="748.05" width="5.7" height="5.7" fill="#f1b7b8" />
<text x="636.6" y="753.4" font-size="7.5" text-anchor="start" fill="#222" font-style="italic" stroke="#222" stroke-width="0.14">MANSC1</text>
<rect x="628.9" y="758.15" width="5.7" height="5.7" fill="#7ea5ca" />
<text x="636.6" y="763.5" font-size="7.5" text-anchor="start" fill="#222" font-style="italic" stroke="#222" stroke-width="0.14">BCAS1</text>
</svg></body></html>
